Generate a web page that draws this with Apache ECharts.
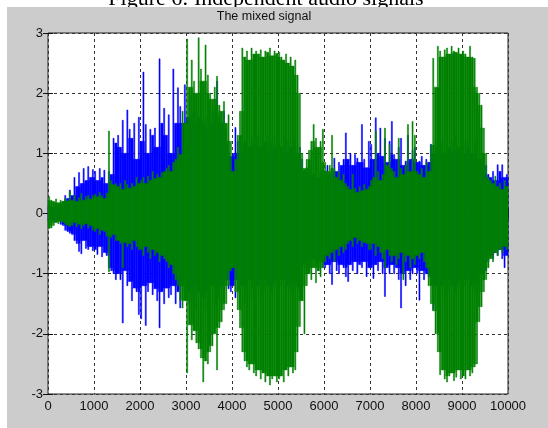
<!DOCTYPE html>
<html lang="en">

<head>
  <meta charset="UTF-8">
  <title>The mixed signal</title>
  <script src="https://cdn.jsdelivr.net/npm/echarts@6/dist/echarts.min.js"></script>
</head>

<body style="margin:0">
  <div id="chart" style="width: 548px;height: 428px;"></div>
  <script>
    const myEcharts = echarts.init(document.getElementById('chart'))

    // envelope of each signal, one max and one min per 50 samples
    const step = 50
    const xTicks = [0, 10000, 1000]
    const yTicks = [-3, 3, 1]

    const greenHi = [
      0.28, 0.22, 0.2, 0.24, 0.18, 0.22, 0.2, 0.25, 0.21, 0.37,
      0.22, 0.3, 0.2, 0.26, 0.33, 0.22, 0.28, 0.3, 0.24, 0.3,
      0.32, 0.28, 0.35, 0.3, 0.25, 0.34, 1.37, 0.55, 0.48, 0.5,
      0.45, 0.5, 0.4, 0.55, 0.48, 0.42, 0.5, 0.45, 0.6, 0.5,
      0.55, 0.6, 0.5, 0.62, 0.55, 0.7, 0.58, 0.65, 0.6, 0.68,
      0.7, 0.75, 0.8, 0.7, 0.85, 0.9, 1.1, 0.98, 1.7, 1.5,
      2.9, 2.1, 2.55, 2.2, 2.0, 2.92, 2.4, 2.2, 2.8, 2.3,
      2.0, 1.9, 2.1, 2.28, 1.8, 1.7, 1.86, 1.5, 1.64, 1.2,
      0.7, 0.9, 1.3, 1.7, 2.75, 2.6, 2.7, 2.55, 2.75, 2.65,
      2.7, 2.65, 2.72, 2.6, 2.7, 2.68, 2.75, 2.62, 2.7, 2.66,
      2.68, 2.6, 2.55, 2.65, 2.5, 2.6, 2.45, 2.55, 2.3, 2.0,
      1.0, 0.75, 0.9, 1.05, 1.2, 1.48, 1.25, 1.1, 1.2, 1.4,
      0.85, 0.7, 0.8, 1.3, 0.75, 0.6, 0.7, 0.55, 0.65, 0.5,
      0.45, 0.4, 0.65, 0.42, 0.35, 0.45, 0.38, 0.48, 0.4, 0.45,
      0.55, 0.6, 1.37, 0.7, 0.55, 0.65, 1.42, 0.8, 1.15, 0.75,
      0.7, 0.6, 1.25, 0.75, 0.65, 0.8, 1.48, 0.7, 1.53, 1.3,
      0.7, 0.65, 0.75, 0.6, 0.85, 0.7, 1.14, 2.58, 2.1, 2.78,
      2.7, 2.6, 2.72, 2.75, 2.65, 2.78, 2.7, 2.68, 2.75, 2.65,
      2.7, 2.65, 2.6, 2.78, 2.6, 2.58, 2.1, 2.0, 1.8, 1.42,
      1.0, 0.6, 0.55, 0.5, 0.62, 0.45, 0.5, 0.4, 0.55, 0.45
    ]
    const greenLo = [
      -0.25, -0.24, -0.2, -0.15, -0.17, -0.13, -0.15, -0.18, -0.2, -0.22,
      -0.2, -0.15, -0.22, -0.18, -0.25, -0.2, -0.17, -0.24, -0.2, -0.28,
      -0.3, -0.25, -0.35, -0.28, -0.3, -0.38, -0.97, -0.4, -0.35, -0.45,
      -0.45, -0.5, -0.9, -0.48, -0.55, -0.5, -0.6, -0.45, -0.55, -0.6,
      -0.6, -0.7, -0.55, -0.65, -0.75, -0.6, -0.7, -0.65, -0.8, -0.7,
      -0.75, -0.8, -0.9, -0.85, -1.0, -1.1, -1.2, -1.44, -1.57, -1.45,
      -2.65, -1.85, -2.1, -1.95, -2.15, -2.25, -2.4, -2.8, -2.45, -2.5,
      -2.3, -2.2, -2.0, -2.6, -1.9, -1.8, -1.6, -1.5, -1.2, -0.95,
      -0.9, -1.3, -1.6, -1.9, -2.3, -2.45, -2.55, -2.6, -2.5, -2.65,
      -2.7, -2.6, -2.75, -2.65, -2.8, -2.7, -2.85, -2.75, -2.7, -2.8,
      -2.75, -2.7, -2.8, -2.6, -2.7, -2.55, -2.65, -2.6, -2.3, -1.88,
      -1.45, -2.0, -1.2, -1.0, -1.1, -0.9, -1.15, -0.95, -1.05, -0.9,
      -0.8, -0.7, -0.75, -0.65, -0.8, -0.6, -0.7, -0.55, -0.65, -0.6,
      -0.5, -0.45, -0.55, -0.4, -0.5, -0.45, -0.55, -0.48, -0.5, -0.6,
      -0.6, -0.5, -0.7, -0.55, -0.65, -0.75, -0.9, -0.6, -0.7, -0.8,
      -0.7, -0.85, -0.75, -0.65, -1.1, -0.8, -0.7, -0.9, -0.75, -0.85,
      -0.7, -0.75, -0.65, -0.8, -0.9, -1.2, -1.5, -1.62, -2.0, -2.3,
      -2.68, -2.6, -2.75, -2.8, -2.7, -2.65, -2.78, -2.72, -2.6, -2.75,
      -2.7, -2.75, -2.6, -2.7, -2.65, -2.55, -2.5, -1.8, -1.55, -1.3,
      -1.1, -0.9, -0.75, -0.8, -0.65, -0.7, -0.6, -0.65, -0.55, -0.6
    ]
    const blueHi = [
      0.15, 0.12, 0.1, 0.14, 0.12, 0.16, 0.2, 0.3, 0.25, 0.39,
      0.3, 0.6, 0.45, 0.68, 0.5, 0.75, 0.55, 0.78, 0.6, 0.73,
      0.7, 0.55, 0.75, 0.6, 0.72, 0.5, 0.7, 0.65, 1.25, 1.17,
      1.3, 1.1, 1.55, 1.0, 1.72, 1.4, 1.25, 1.5, 0.9, 1.6,
      1.2, 2.35, 1.48, 1.0, 1.4, 1.3, 1.42, 1.1, 2.57, 1.5,
      1.75, 1.3, 1.64, 1.0, 2.4, 1.5, 2.09, 1.78, 1.5, 2.14,
      1.6, 1.97, 1.7, 1.5, 1.97, 1.6, 1.8, 1.5, 1.6, 1.4,
      1.5, 1.7, 1.9, 2.2, 1.6, 1.5, 1.7, 1.4, 1.2, 0.95,
      1.0, 1.43, 1.2, 1.0, 1.3, 1.2, 1.4, 1.1, 1.3, 1.2,
      1.2, 1.3, 1.1, 1.4, 1.2, 1.3, 1.0, 1.2, 1.3, 1.1,
      1.2, 1.1, 1.3, 1.0, 1.2, 1.1, 1.3, 1.2, 1.0, 1.1,
      0.9, 0.7, 0.76, 0.6, 0.8, 0.65, 0.72, 0.6, 0.7, 0.75,
      0.7, 0.8, 0.65, 0.75, 0.92, 0.7, 0.85, 0.8, 0.9, 1.34,
      0.9, 1.0, 0.8, 0.98, 0.92, 0.85, 1.48, 0.9, 0.76, 1.2,
      1.15, 0.9, 1.59, 1.0, 1.42, 0.95, 1.25, 0.85, 1.2, 1.53,
      0.98, 0.9, 1.1, 1.25, 0.8, 0.87, 1.3, 0.9, 1.05, 1.1,
      0.85, 0.87, 0.95, 0.8, 0.9, 0.85, 1.15, 1.0, 1.2, 1.1,
      1.1, 1.2, 1.0, 1.3, 1.1, 1.2, 1.0, 1.3, 1.1, 1.2,
      1.0, 1.2, 1.1, 1.3, 1.0, 1.2, 1.1, 0.9, 1.0, 0.9,
      0.8, 0.65, 0.6, 0.7, 0.55, 0.81, 0.7, 0.81, 0.6, 0.65
    ]
    const blueLo = [
      -0.15, -0.12, -0.1, -0.14, -0.12, -0.18, -0.2, -0.28, -0.3, -0.33,
      -0.35, -0.45, -0.5, -0.63, -0.67, -0.45, -0.58, -0.6, -0.55, -0.62,
      -0.6, -0.68, -0.55, -0.72, -0.65, -0.7, -0.9, -0.95, -1.0, -1.1,
      -1.0, -1.1, -1.82, -0.95, -1.2, -1.13, -1.45, -1.24, -1.3, -1.68,
      -1.75, -1.2, -1.86, -1.3, -1.15, -1.35, -1.25, -1.45, -1.9, -1.3,
      -1.5, -1.24, -1.4, -1.35, -1.2, -1.5, -1.3, -1.57, -1.2, -1.4,
      -1.3, -1.5, -1.4, -1.2, -1.6, -1.3, -1.5, -1.4, -1.6, -1.3,
      -1.4, -1.2, -1.5, -1.3, -1.4, -1.2, -1.3, -1.1, -1.25, -1.3,
      -1.2, -1.4, -1.1, -1.3, -1.2, -1.5, -1.3, -1.1, -1.4, -1.2,
      -1.3, -1.2, -1.4, -1.1, -1.3, -1.2, -1.4, -1.3, -1.2, -1.1,
      -1.3, -1.2, -1.1, -1.4, -1.2, -1.3, -1.1, -1.2, -1.25, -1.4,
      -1.3, -0.85, -0.95, -0.8, -0.9, -0.75, -0.85, -0.95, -0.8, -0.9,
      -0.9, -0.85, -1.0, -1.18, -0.8, -0.95, -1.0, -0.85, -0.9, -1.05,
      -1.13, -0.85, -0.95, -0.8, -1.0, -0.85, -0.9, -0.8, -1.05, -0.9,
      -0.9, -1.08, -0.85, -0.95, -0.8, -1.0, -1.38, -0.9, -1.0, -0.85,
      -1.0, -0.9, -1.1, -1.57, -1.0, -1.2, -0.95, -1.1, -1.0, -0.9,
      -1.0, -1.44, -0.95, -1.1, -1.0, -1.05, -1.15, -1.6, -1.2, -1.3,
      -1.3, -1.2, -1.4, -1.1, -1.3, -1.2, -1.4, -1.3, -1.2, -1.1,
      -1.3, -1.2, -1.1, -1.4, -1.2, -1.3, -1.1, -1.2, -1.0, -1.1,
      -0.95, -0.8, -0.7, -0.75, -0.65, -0.7, -0.6, -0.75, -0.9, -0.7
    ]

    // one block per 50 samples: [start, end, min, max]
    function blocks(hi, lo) {
      return hi.map((h, i) => [i * step, (i + 1) * step, lo[i], h])
    }

    // solid body up to the lowest neighbour, a thin spike above it
    function envelope(color) {
      return function (params, api) {
        const i = params.dataIndexInside
        const n = params.dataInsideLength
        const prev = Math.max(i - 1, 0)
        const next = Math.min(i + 1, n - 1)
        const lo = api.value(2), hi = api.value(3)
        const bodyHi = Math.min(hi, api.value(3, prev), api.value(3, next))
        const bodyLo = Math.max(lo, api.value(2, prev), api.value(2, next))
        const a = api.coord([api.value(0), bodyHi])
        const b = api.coord([api.value(1), bodyLo])
        const xm = (a[0] + b[0]) / 2
        const yHi = api.coord([0, hi])[1]
        const yLo = api.coord([0, lo])[1]
        const w = 0.55
        const points = [
          [a[0], a[1]], [xm - w, a[1]], [xm - w, yHi], [xm + w, yHi], [xm + w, a[1]], [b[0], a[1]],
          [b[0], b[1]], [xm + w, b[1]], [xm + w, yLo], [xm - w, yLo], [xm - w, b[1]], [a[0], b[1]]
        ]
        return {
          type: 'polygon',
          shape: { points },
          style: { fill: color, stroke: color, lineWidth: 0.5 }
        }
      }
    }

    const tickFont = { color: '#111', fontSize: 13, fontFamily: 'Liberation Sans, Arial' }
    const grid = { type: [3, 3], color: '#333', width: 1 }

    function xAxis(pos, labels) {
      return {
        type: 'value', position: pos,
        min: xTicks[0], max: xTicks[1], interval: xTicks[2],
        axisLine: { show: false },
        axisTick: { inside: true, length: 5, lineStyle: { color: '#111' } },
        axisLabel: { show: labels, margin: 6, formatter: v => String(v), ...tickFont },
        splitLine: { show: labels, lineStyle: grid }
      }
    }
    function yAxis(pos, labels) {
      return {
        type: 'value', position: pos,
        min: yTicks[0], max: yTicks[1], interval: yTicks[2],
        axisLine: { show: false },
        axisTick: { inside: true, length: 5, lineStyle: { color: '#111' } },
        axisLabel: { show: labels, margin: 5, formatter: v => String(v), ...tickFont },
        splitLine: { show: labels, lineStyle: grid }
      }
    }

    const option = {
      animation: false,
      backgroundColor: '#fff',
      graphic: [
        {
          type: 'text', z: -20,
          style: {
            text: 'Figure 6: Independent audio signals', x: 266, y: -1,
            textAlign: 'center', textVerticalAlign: 'middle',
            font: '22px "Liberation Serif", "Times New Roman", serif', fill: '#000'
          }
        },
        {
          type: 'rect', z: -10,
          shape: { x: 7, y: 7, width: 541, height: 421 },
          style: { fill: '#cccccc' }
        },
        {
          type: 'text', z: 5,
          style: {
            text: 'The mixed signal', x: 264, y: 16.5,
            textAlign: 'center', textVerticalAlign: 'middle',
            font: '12.5px "Liberation Sans", Arial, sans-serif', fill: '#111'
          }
        }
      ],
      grid: {
        left: 48, right: 40, top: 33, bottom: 34,
        show: true, backgroundColor: '#fff', borderColor: '#222', borderWidth: 1
      },
      xAxis: [xAxis('bottom', true), xAxis('top', false)],
      yAxis: [yAxis('left', true), yAxis('right', false)],
      series: [
        {
          name: 'blue', type: 'custom', data: blocks(blueHi, blueLo),
          encode: { x: [0, 1], y: [2, 3] }, renderItem: envelope('#0000ff')
        },
        {
          name: 'green', type: 'custom', data: blocks(greenHi, greenLo),
          encode: { x: [0, 1], y: [2, 3] }, renderItem: envelope('#008000')
        }
      ]
    }

    myEcharts.setOption(option)

  </script>
</body>

</html>
